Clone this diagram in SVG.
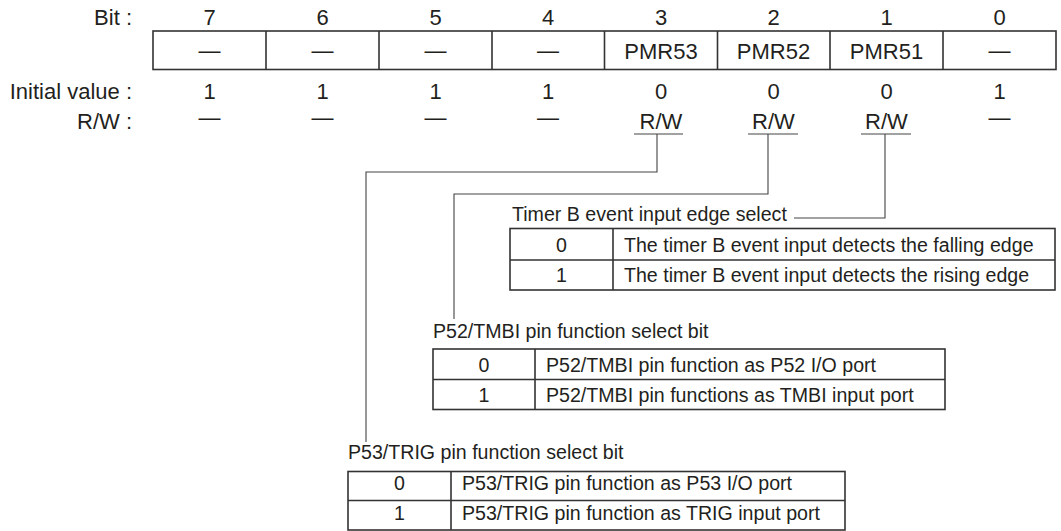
<svg xmlns="http://www.w3.org/2000/svg" width="1061" height="531" viewBox="0 0 1061 531">
<style>
text{font-family:"Liberation Sans",Arial,sans-serif;fill:#231f20}
.r{font-size:22px}
.t{font-size:19.6px}
.m{text-anchor:middle}
.e{text-anchor:end}
.box{fill:none;stroke:#333;stroke-width:1.6}
.ln{fill:none;stroke:#444;stroke-width:1.1}
</style>
<rect width="1061" height="531" fill="#fff"/>
<g id="register">
<text class="r e" x="132" y="25">Bit :</text>
<text class="r e" x="132" y="99">Initial value :</text>
<text class="r e" x="132" y="128.5">R/W :</text>
<rect class="box" x="153" y="31" width="903" height="38.5"/>
<path class="box" d="M266 31V69.5M379 31V69.5M492 31V69.5M604.5 31V69.5M717.5 31V69.5M830 31V69.5M943 31V69.5"/>
<g class="r m">
<text x="209.5" y="25">7</text><text x="322.5" y="25">6</text><text x="435.5" y="25">5</text><text x="548" y="25">4</text>
<text x="661" y="25">3</text><text x="773.5" y="25">2</text><text x="886.5" y="25">1</text><text x="999.5" y="25">0</text>
<text x="209.5" y="57.5">—</text><text x="322.5" y="57.5">—</text><text x="435.5" y="57.5">—</text><text x="548" y="57.5">—</text>
<text x="661" y="59">PMR53</text><text x="773.5" y="59">PMR52</text><text x="886.5" y="59">PMR51</text><text x="999.5" y="57.5">—</text>
<text x="209.5" y="99">1</text><text x="322.5" y="99">1</text><text x="435.5" y="99">1</text><text x="548" y="99">1</text>
<text x="661" y="99">0</text><text x="773.5" y="99">0</text><text x="886.5" y="99">0</text><text x="999.5" y="99">1</text>
<text x="209.5" y="124.5">—</text><text x="322.5" y="124.5">—</text><text x="435.5" y="124.5">—</text><text x="548" y="124.5">—</text>
<text x="661" y="128.5">R/W</text><text x="773.5" y="128.5">R/W</text><text x="886.5" y="128.5">R/W</text><text x="999.5" y="124.5">—</text>
</g>
<path class="ln" d="M634 134H683M748 134H798M861 134H911"/>
</g>
<g id="connectors">
<path class="ln" d="M885 134V218H794"/>
<path class="ln" d="M768 134V194H454V319"/>
<path class="ln" d="M657 134V172H366V442"/>
</g>
<g id="timerB">
<text class="t" x="512" y="221">Timer B event input edge select</text>
<rect class="box" x="510" y="228.5" width="545" height="61.5"/>
<path class="box" d="M510 260H1055M613 228.5V290"/>
<text class="t m" x="561.5" y="251.5">0</text>
<text class="t m" x="561.5" y="282">1</text>
<text class="t" x="624" y="251.5">The timer B event input detects the falling edge</text>
<text class="t" x="624" y="282">The timer B event input detects the rising edge</text>
</g>
<g id="p52">
<text class="t" x="433" y="338">P52/TMBI pin function select bit</text>
<rect class="box" x="433" y="349" width="512" height="60.5"/>
<path class="box" d="M433 379.5H945M535 349V409.5"/>
<text class="t m" x="484" y="371.5">0</text>
<text class="t m" x="484" y="401.5">1</text>
<text class="t" x="546" y="371.5">P52/TMBI pin function as P52 I/O port</text>
<text class="t" x="546" y="401.5">P52/TMBI pin functions as TMBI input port</text>
</g>
<g id="p53">
<text class="t" x="348" y="459">P53/TRIG pin function select bit</text>
<rect class="box" x="348" y="471.5" width="497" height="58.5"/>
<path class="box" d="M348 500.5H845M451 471.5V530"/>
<text class="t m" x="399.5" y="489.5">0</text>
<text class="t m" x="399.5" y="519.5">1</text>
<text class="t" x="462" y="489.5">P53/TRIG pin function as P53 I/O port</text>
<text class="t" x="462" y="519.5">P53/TRIG pin function as TRIG input port</text>
</g>
</svg>
